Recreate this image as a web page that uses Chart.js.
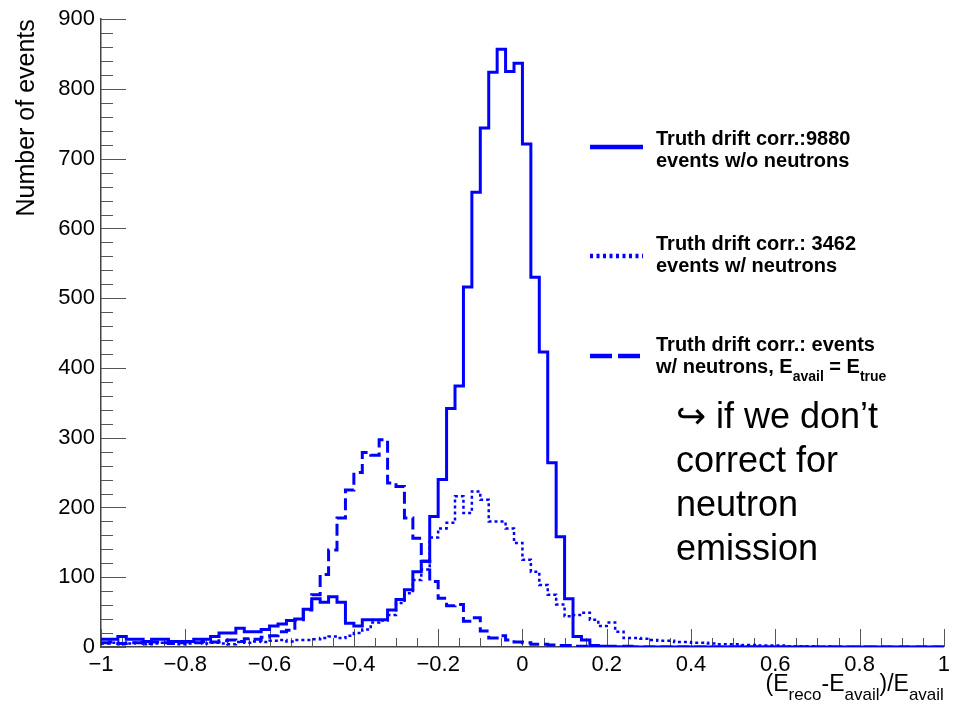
<!DOCTYPE html>
<html>
<head>
<meta charset="utf-8">
<script src="https://cdn.jsdelivr.net/npm/chart.js@4.4.1/dist/chart.umd.min.js"></script>
<style>
  html, body { margin: 0; padding: 0; background: #fff; }
  #chart { display: block; }
</style>
</head>
<body>
<canvas id="chart" width="955" height="708"></canvas>
<script>
// histogram binning: 100 bins of 0.02 from -1 to 1
const binStart = -1;
const binWidth = 0.02;

// events w/o neutrons (solid)
const noNeutrons = [
  11, 11, 15, 11, 11, 8, 11, 11, 8, 8,
  8, 11, 11, 15, 20, 20, 27, 22, 22, 25,
  30, 33, 38, 40, 54, 69, 64, 72, 64, 34,
  30, 39, 39, 39, 53, 68, 82, 108, 123, 187,
  240, 342, 374, 516, 652, 744, 824, 857, 825, 837,
  721, 530, 423, 264, 158, 69, 15, 10, 2, 1,
  1, 0, 1, 0, 0, 0, 0, 0, 0, 0,
  0, 0, 0, 0, 0, 0, 0, 0, 0, 0,
  0, 0, 0, 0, 0, 0, 0, 0, 0, 0,
  0, 0, 0, 0, 0, 0, 0, 0, 0, 0
];

// events w/ neutrons (dotted)
const withNeutrons = [
  5, 6, 4, 5, 6, 4, 5, 6, 5, 4,
  5, 6, 5, 6, 5, 4, 7, 6, 8, 7,
  9, 10, 8, 10, 10, 11, 13, 15, 13, 16,
  20, 25, 35, 38, 46, 63, 77, 96, 111, 157,
  170, 178, 216, 192, 223, 211, 180, 180, 170, 149,
  125, 108, 89, 75, 61, 44, 46, 49, 39, 30,
  35, 22, 13, 13, 12, 10, 9, 9, 7, 7,
  6, 6, 5, 4, 4, 4, 3, 3, 2, 2,
  2, 1, 1, 1, 1, 0, 1, 0, 0, 0,
  0, 0, 0, 0, 0, 0, 0, 0, 0, 0
];

// events w/ neutrons, E_avail = E_true (dashed)
const availTrue = [
  6, 7, 5, 6, 6, 5, 7, 6, 5, 6,
  7, 6, 8, 7, 9, 10, 8, 12, 11, 14,
  16, 22, 24, 39, 53, 75, 104, 139, 185, 225,
  250, 279, 275, 297, 235, 230, 185, 156, 123, 94,
  70, 59, 61, 37, 42, 23, 13, 16, 10, 7,
  6, 4, 4, 3, 2, 2, 1, 1, 1, 0,
  0, 0, 0, 0, 0, 0, 0, 0, 0, 0,
  0, 0, 0, 0, 0, 0, 0, 0, 0, 0,
  0, 0, 0, 0, 0, 0, 0, 0, 0, 0,
  0, 0, 0, 0, 0, 0, 0, 0, 0, 0
];

const legendEntries = [
  { lines: ['Truth drift corr.:9880', 'events w/o neutrons'], dash: [] },
  { lines: ['Truth drift corr.: 3462', 'events w/ neutrons'], dash: [3, 3.5] },
  { lines: ['Truth drift corr.: events', null], dash: [22, 6] }
];

const noteLines = ['\u21AA if we don\u2019t', 'correct for', 'neutron', 'emission'];

const BLUE = '#0000ff';
const FONT = '"Liberation Sans", Arial, Helvetica, sans-serif';

// turn bin contents into step points (lower edge of each bin + closing edge)
function toSteps(values) {
  const pts = values.map((v, i) => ({ x: binStart + i * binWidth, y: v }));
  pts.push({ x: binStart + values.length * binWidth, y: values[values.length - 1] });
  return pts;
}

// draw text with subscripts: parts = [[text, isSub], ...]
function richText(ctx, parts, x, y, size, bold, align) {
  const main = (bold ? 'bold ' : '') + size + 'px ' + FONT;
  const sub = (bold ? 'bold ' : '') + Math.round(size * 0.72) + 'px ' + FONT;
  let total = 0;
  parts.forEach(p => { ctx.font = p[1] ? sub : main; total += ctx.measureText(p[0]).width; });
  let cx = align === 'right' ? x - total : x;
  ctx.textAlign = 'left';
  parts.forEach(p => {
    ctx.font = p[1] ? sub : main;
    ctx.fillText(p[0], cx, p[1] ? y + size * 0.38 : y);
    cx += ctx.measureText(p[0]).width;
  });
}

// ROOT style ticks drawn inside the frame
const rootTicks = {
  id: 'rootTicks',
  beforeDatasetsDraw(chart) {
    const { ctx, chartArea: a, scales: { x, y } } = chart;
    ctx.save();
    ctx.strokeStyle = '#555';
    ctx.lineWidth = 1;
    ctx.beginPath();
    for (let i = 0; i <= 40; i++) {
      const px = Math.round(x.getPixelForValue(-1 + i * 0.05)) + 0.5;
      const len = i % 4 === 0 ? 18 : 9;
      ctx.moveTo(px, a.bottom);
      ctx.lineTo(px, a.bottom - len);
    }
    for (let i = 0; i <= 45; i++) {
      const py = Math.round(y.getPixelForValue(i * 20)) + 0.5;
      const len = i % 5 === 0 ? 25 : 12;
      ctx.moveTo(a.left, py);
      ctx.lineTo(a.left + len, py);
    }
    ctx.stroke();
    ctx.restore();
  }
};

// legend, axis titles and the note
const decorations = {
  id: 'decorations',
  afterDraw(chart) {
    const { ctx, chartArea: a } = chart;
    ctx.save();
    ctx.fillStyle = '#000';
    ctx.textBaseline = 'alphabetic';

    // y title
    ctx.save();
    ctx.translate(34, a.top);
    ctx.rotate(-Math.PI / 2);
    ctx.font = '25px ' + FONT;
    ctx.textAlign = 'right';
    ctx.fillText('Number of events', 0, 0);
    ctx.restore();

    // x title
    richText(ctx, [['(E', false], ['reco', true], ['-E', false], ['avail', true], [')/E', false], ['avail', true]],
      a.right, 691, 23, false, 'right');

    // legend
    const tops = [145, 250, 351];
    const lineYs = [147, 256, 356];
    legendEntries.forEach((e, i) => {
      ctx.save();
      ctx.strokeStyle = BLUE;
      ctx.lineWidth = 4.5;
      ctx.setLineDash(e.dash);
      ctx.beginPath();
      ctx.moveTo(590, lineYs[i]);
      ctx.lineTo(643, lineYs[i]);
      ctx.stroke();
      ctx.restore();
      ctx.font = 'bold 20px ' + FONT;
      ctx.textAlign = 'left';
      ctx.fillText(e.lines[0], 656, tops[i]);
      if (e.lines[1]) {
        ctx.fillText(e.lines[1], 656, tops[i] + 22);
      }
    });
    richText(ctx, [['w/ neutrons, E', false], ['avail', true], [' = E', false], ['true', true]],
      656, tops[2] + 22, 20, true, 'left');

    // note
    ctx.font = '36px ' + FONT;
    ctx.textAlign = 'left';
    noteLines.forEach((t, i) => {
      ctx.fillText(t, 676, 428 + i * 44);
    });
    ctx.restore();
  }
};

const tickFont = { family: FONT, size: 22 };

new Chart(document.getElementById('chart'), {
  type: 'line',
  data: {
    datasets: [
      { data: toSteps(noNeutrons), borderColor: BLUE, borderWidth: 3, stepped: 'before' },
      { data: toSteps(withNeutrons), borderColor: BLUE, borderWidth: 2.5, borderDash: [3, 3], stepped: 'before' },
      { data: toSteps(availTrue), borderColor: BLUE, borderWidth: 3, borderDash: [12, 5], stepped: 'before' }
    ]
  },
  options: {
    responsive: false,
    animation: false,
    layout: { padding: { top: 19, right: 9 } },
    elements: { point: { radius: 0 } },
    plugins: { legend: { display: false }, tooltip: { enabled: false } },
    scales: {
      x: {
        type: 'linear',
        min: -1,
        max: 1,
        grid: { display: false, drawTicks: false },
        border: { display: true, color: '#444', width: 1.5 },
        ticks: {
          stepSize: 0.2,
          padding: 5,
          color: '#000',
          font: tickFont,
          maxRotation: 0,
          autoSkip: false,
          callback: v => {
            const r = Math.round(v * 10) / 10;
            return r < 0 ? '\u2212' + Math.abs(r) : String(r);
          }
        },
        afterFit: s => { s.height = 61; }
      },
      y: {
        min: 0,
        max: 900,
        grid: { display: false, drawTicks: false },
        border: { display: true, color: '#444', width: 1.5 },
        ticks: { stepSize: 100, padding: 6, color: '#000', font: tickFont },
        afterFit: s => { s.width = 101; }
      }
    }
  },
  plugins: [rootTicks, decorations]
});
</script>
</body>
</html>
